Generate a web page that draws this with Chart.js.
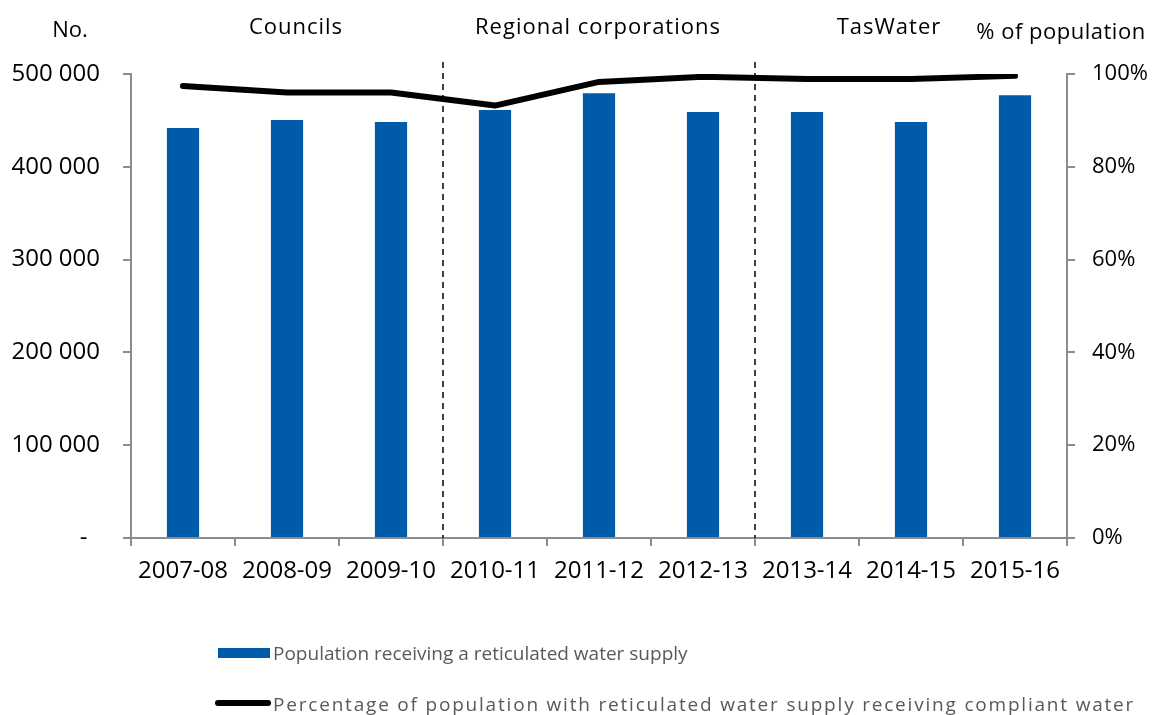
<!DOCTYPE html>
<html>
<head>
<meta charset="utf-8">
<script src="https://cdn.jsdelivr.net/npm/chart.js@4.4.1/dist/chart.umd.min.js"></script>
<style>
  html, body { margin: 0; padding: 0; background: #fff; }
  #wrap { position: relative; width: 1153px; height: 715px; font-family: 'Open Sans', sans-serif; }
  canvas { position: absolute; left: 0; top: 0; }
  .lbl { position: absolute; white-space: nowrap; color: #000; font-size: 22px; line-height: 1; transform: translate(-50%, -50%); }
  .leg { position: absolute; white-space: nowrap; color: #595959; font-size: 19px; line-height: 1; transform: translateY(-50%); }
  .swatch { position: absolute; }
</style>
</head>
<body>
<div id="wrap">
  <canvas id="c" width="1153" height="715"></canvas>
  <div class="lbl" style="left:70px; top:28px;">No.</div>
  <div class="lbl" style="left:296px; top:25px; letter-spacing:1px;">Councils</div>
  <div class="lbl" style="left:598px; top:25px; letter-spacing:1px;">Regional corporations</div>
  <div class="lbl" style="left:889px; top:25px; letter-spacing:1px;">TasWater</div>
  <div class="lbl" style="left:1061px; top:30px; letter-spacing:0.5px;">% of population</div>
  <div class="swatch" style="left:218px; top:648px; width:52px; height:10px; background:#005BAA;"></div>
  <div class="leg" style="left:273px; top:653px;">Population receiving a reticulated water supply</div>
  <div class="swatch" style="left:215px; top:700px; width:56px; height:6px; border-radius:3px; background:#000;"></div>
  <div class="leg" style="left:273px; top:704px; letter-spacing:1.8px;">Percentage of population with reticulated water supply receiving compliant water</div>
</div>
<script>
const categories = ['2007-08','2008-09','2009-10','2010-11','2011-12','2012-13','2013-14','2014-15','2015-16'];
const populationReceiving = [441800, 450300, 448200, 461100, 479200, 459000, 459000, 448200, 477000];
const percentCompliant = [97.4, 96.0, 96.0, 93.2, 98.3, 99.4, 98.9, 98.9, 99.6];
const leftTicks = [0, 100000, 200000, 300000, 400000, 500000];
const rightTicks = [0, 20, 40, 60, 80, 100];
const sectionBoundaries = [2.5, 5.5];

const FONT = 'Open Sans';
const AXIS = '#8c8c8c';

function fmtNum(v) {
  if (v === 0) return '-  ';
  return String(Math.round(v)).replace(/\B(?=(\d{3})+(?!\d))/g, ' ');
}

const dashedPlugin = {
  id: 'dashed',
  beforeDatasetsDraw(chart) {
    const x = chart.scales.x, ctx = chart.ctx, a = chart.chartArea;
    ctx.save();
    ctx.strokeStyle = '#000';
    ctx.lineWidth = 1.5;
    ctx.setLineDash([6, 5]);
    sectionBoundaries.forEach(b => {
      const lo = Math.floor(b), hi = Math.ceil(b);
      const px = (x.getPixelForValue(lo) + x.getPixelForValue(hi)) / 2;
      ctx.beginPath();
      ctx.moveTo(px, a.top - 12);
      ctx.lineTo(px, a.bottom);
      ctx.stroke();
    });
    ctx.restore();
  }
};

new Chart(document.getElementById('c'), {
  data: {
    labels: categories,
    datasets: [
      {
        type: 'line',
        label: 'Percentage of population with reticulated water supply receiving compliant water',
        data: percentCompliant,
        yAxisID: 'y1',
        borderColor: '#000',
        backgroundColor: '#000',
        borderWidth: 6,
        pointRadius: 0,
        borderJoinStyle: 'round',
        borderCapStyle: 'round',
        tension: 0,
        order: 1
      },
      {
        type: 'bar',
        label: 'Population receiving a reticulated water supply',
        data: populationReceiving,
        yAxisID: 'y',
        backgroundColor: '#005BAA',
        barPercentage: 0.31,
        categoryPercentage: 1.0,
        order: 2
      }
    ]
  },
  options: {
    responsive: false,
    animation: false,
    devicePixelRatio: 1,
    layout: { padding: { left: 0, right: 0, top: 74, bottom: 97 } },
    plugins: { legend: { display: false }, tooltip: { enabled: false } },
    scales: {
      x: {
        offset: true,
        grid: { offset: true, drawOnChartArea: false, drawTicks: true, tickLength: 8, color: AXIS, lineWidth: 2 },
        border: { color: AXIS, width: 2 },
        ticks: { color: '#000', font: { family: FONT, size: 24 }, padding: 11, maxRotation: 0, autoSkip: false },
        afterFit(s) { s.height = 80; }
      },
      y: {
        position: 'left',
        min: 0, max: 500000,
        afterBuildTicks(s) { s.ticks = leftTicks.map(v => ({ value: v })); },
        grid: { drawOnChartArea: false, drawTicks: true, tickLength: 8, color: AXIS, lineWidth: 2 },
        border: { color: AXIS, width: 2 },
        ticks: { color: '#000', font: { family: FONT, size: 24 }, padding: 23, callback: v => fmtNum(v) },
        afterFit(s) { s.width = 131; }
      },
      y1: {
        position: 'right',
        min: 0, max: 100,
        afterBuildTicks(s) { s.ticks = rightTicks.map(v => ({ value: v })); },
        grid: { drawOnChartArea: false, drawTicks: true, tickLength: 8, color: AXIS, lineWidth: 2 },
        border: { color: AXIS, width: 2 },
        ticks: { color: '#000', font: { family: FONT, size: 22 }, padding: 17, callback: v => v + '%' },
        afterFit(s) { s.width = 86; }
      }
    }
  },
  plugins: [dashedPlugin]
});
</script>
</body>
</html>
